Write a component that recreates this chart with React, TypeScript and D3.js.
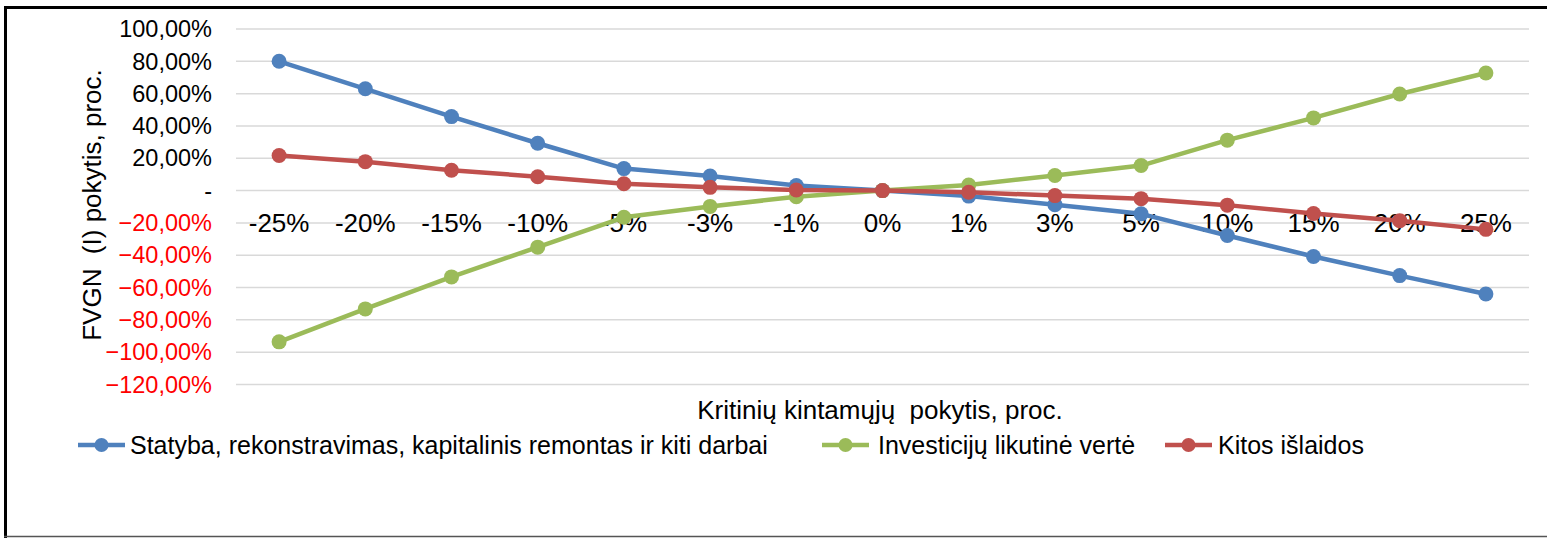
import React from "react";
import * as d3 from "d3";

const categories = ["-25%", "-20%", "-15%", "-10%", "-5%", "-3%", "-1%", "0%", "1%", "3%", "5%", "10%", "15%", "20%", "25%"];
const statyba = [80, 63, 45.8, 29.3, 13.6, 9, 3.1, 0, -3.4, -8.7, -14.4, -27.8, -40.8, -52.6, -64];
const investiciju = [-93.6, -73.2, -53.4, -35, -16.5, -9.8, -3.8, 0, 3.5, 9.3, 15.5, 31.2, 45, 59.8, 72.8];
const kitos = [21.7, 17.9, 12.6, 8.6, 4.2, 2, 0.4, 0, -1, -3.1, -5, -9, -14.2, -18.6, -24];
const yTicks = [100, 80, 60, 40, 20, 0, -20, -40, -60, -80, -100, -120];

const seriesNames = [
  "Statyba, rekonstravimas, kapitalinis remontas ir kiti darbai",
  "Investicijų likutinė vertė",
  "Kitos išlaidos",
];
const seriesColors = ["#4F81BD", "#9BBB59", "#C0504D"];

const W = 1547;
const H = 538;
const FONT = "'Liberation Sans', Arial, sans-serif";

export default function App() {
  const x = d3.scaleBand<string>().domain(categories).range([236, 1529]);
  const y = d3.scaleLinear().domain([-120, 100]).range([384.5, 29]);
  const cx = (c: string) => (x(c) as number) + x.bandwidth() / 2;
  const line = d3
    .line<number>()
    .x((_, i) => cx(categories[i]))
    .y((v) => y(v));
  const data = [statyba, investiciju, kitos];
  const fmt = (v: number) =>
    v === 0 ? "-" : d3.format(".2f")(v).replace(".", ",") + "%";

  const legendItems = [
    { x: 78, textX: 130 },
    { x: 822, textX: 878 },
    { x: 1165, textX: 1218 },
  ];

  return (
    <svg
      width={W}
      height={H}
      style={{ position: "absolute", left: 0, top: 0, background: "#fff" }}
      fontFamily={FONT}
    >
      <rect x={0} y={0} width={W} height={H} fill="#fff" />
      {yTicks.map((t) => (
        <line key={t} x1={236} x2={1529} y1={y(t)} y2={y(t)} stroke="#D9D9D9" strokeWidth={1.5} />
      ))}
      {yTicks.map((t) => (
        <text
          key={"l" + t}
          x={212}
          y={y(t)}
          dy="0.35em"
          textAnchor="end"
          fontSize={23.5}
          fill={t < 0 ? "#FF0000" : "#000"}
        >
          {fmt(t)}
        </text>
      ))}
      {categories.map((c) => (
        <text key={c} x={cx(c)} y={y(0) + 32} dy="0.35em" textAnchor="middle" fontSize={26} fill="#000">
          {c}
        </text>
      ))}
      {data.map((s, si) => (
        <g key={si}>
          <path d={line(s) as string} fill="none" stroke={seriesColors[si]} strokeWidth={4.5} strokeLinejoin="round" />
          {s.map((v, i) => (
            <circle key={i} cx={cx(categories[i])} cy={y(v)} r={7.5} fill={seriesColors[si]} />
          ))}
        </g>
      ))}
      <text
        transform={`translate(92, ${205}) rotate(-90)`}
        textAnchor="middle"
        dy="0.35em"
        fontSize={26}
        fill="#000"
        style={{ whiteSpace: "pre" }}
      >
        {"FVGN  (I) pokytis, proc."}
      </text>
      <text x={880} y={410} textAnchor="middle" dy="0.35em" fontSize={26} fill="#000" style={{ whiteSpace: "pre" }}>
        {"Kritinių kintamųjų  pokytis, proc."}
      </text>
      {legendItems.map((l, i) => (
        <g key={i}>
          <line x1={l.x} x2={l.x + 47} y1={445} y2={445} stroke={seriesColors[i]} strokeWidth={4.5} />
          <circle cx={l.x + 23.5} cy={445} r={7} fill={seriesColors[i]} />
          <text x={l.textX} y={445} dy="0.35em" fontSize={25} fill="#000">
            {seriesNames[i]}
          </text>
        </g>
      ))}
      <line x1={4} x2={W} y1={7.5} y2={7.5} stroke="#000" strokeWidth={3} />
      <line x1={5.5} x2={5.5} y1={6} y2={H} stroke="#000" strokeWidth={3} />
      <line x1={4} x2={W} y1={536.5} y2={536.5} stroke="#555" strokeWidth={1.5} />
    </svg>
  );
}
